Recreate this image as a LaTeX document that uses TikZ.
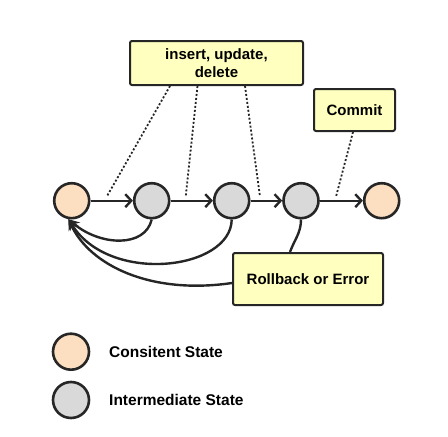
\documentclass[tikz,border=0pt]{standalone}
\usepackage{fontspec}
\setmainfont{Liberation Sans}
\usetikzlibrary{arrows.meta,positioning}
\definecolor{ink}{RGB}{38,38,38}
\definecolor{peach}{RGB}{252,222,192}
\definecolor{grey}{RGB}{217,217,217}
\definecolor{note}{RGB}{255,255,192}

\begin{document}
\begin{tikzpicture}[x=1pt,y=-1pt,line width=2.4pt,draw=ink,>={Straight Barb[length=6pt,width=13pt]},
    state node/.style={circle,draw=ink,line width=2.6pt,minimum size=35pt,inner sep=0pt},
    note node/.style={rectangle,rounded corners=2pt,draw=ink,line width=2pt,fill=note,font=\bfseries\fontsize{15}{18}\selectfont,align=center,inner sep=0pt},
    hint/.style={dash pattern=on 2pt off 2pt,line width=1.8pt},
    back/.style={-{Stealth[length=11pt,width=10pt]}},
    key/.style={font=\bfseries\fontsize{15.5}{18}\selectfont,anchor=west,inner sep=0pt}]
    \useasboundingbox (0,0) rectangle (448,437);

    \node[state node,fill=peach] (1) at (71.7,200.7) {};
    \node[state node,fill=grey] (2) at (151.7,200.7) {};
    \node[state node,fill=grey] (3) at (231.7,200.7) {};
    \node[state node,fill=grey] (4) at (301,200.7) {};
    \node[state node,fill=peach] (5) at (381.7,200.7) {};

    \node[note node,minimum width=173pt,minimum height=44pt] (ins) at (216.5,63) {insert, update,\\delete};
    \node[note node,minimum width=81pt,minimum height=42pt] (com) at (354.5,110) {Commit};
    \node[note node,minimum width=150pt,minimum height=52pt] (rb) at (308,279) {Rollback or Error};

    \coordinate (d1) at (106.7,196.7);
    \coordinate (d2) at (185.7,196.7);
    \coordinate (d3) at (260,196.7);
    \coordinate (d4) at (336,196.7);

    \path[->]
        (1) edge (2)
        (2) edge (3)
        (3) edge (4)
        (4) edge (5)
        ;

    \draw[hint] ([xshift=-46.5pt]ins.south) -- (d1);
    \draw[hint] ([xshift=-19pt]ins.south) -- (d2);
    \draw[hint] ([xshift=28.5pt]ins.south) -- (d3);
    \draw[hint] ([xshift=-1.5pt]com.south) -- (d4);

    \draw[back] (2.south) .. controls (145,248) and (100,246) .. (1.-100);
    \draw[back] (3.south) .. controls (231,270) and (110,285) .. (1.-100);
    \draw[back] ([yshift=-4pt]rb.west) .. controls (150,295) and (90,265) .. (1.-100);
    \draw (4.south) to[out=-90,in=70] ([xshift=-18pt]rb.north);

    \node[state node,fill=peach,minimum size=36pt] (c) at (71,351.7) {};
    \node[state node,fill=grey,minimum size=36pt] (i) at (71,400) {};
    \node[key] (ct) at (108,351.7) {Consitent State};
    \node[key] (it) at (108,400) {Intermediate State};
\end{tikzpicture}
\end{document}
